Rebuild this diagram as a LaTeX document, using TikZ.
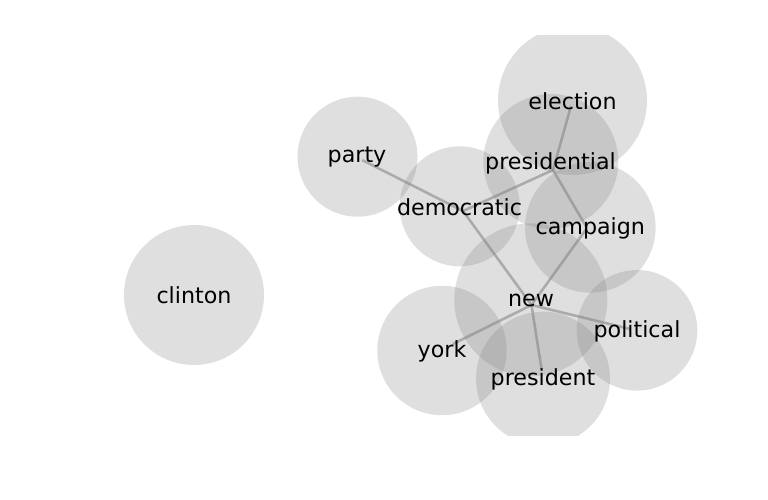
\documentclass[tikz,border=0pt]{standalone}
\usepackage{fontspec}
\setmainfont{DejaVu Sans}
\begin{document}
\begin{tikzpicture}[x=1pt,y=-1pt,
  blob/.style={fill={rgb,255:red,128;green,128;blue,128},fill opacity=0.25,draw=none},
  link/.style={draw={rgb,255:red,128;green,128;blue,128},draw opacity=0.55,line width=2.6pt},
  word/.style={inner sep=0pt,font=\fontsize{22.2}{25}\selectfont,text=black}]
\useasboundingbox (0,0) rectangle (768,500);
% layout points (edge ends)
\coordinate (pElection) at (571,106);
\coordinate (pPresidential) at (553,170);
\coordinate (pParty) at (362,160);
\coordinate (pDemocratic) at (463,211);
\coordinate (pCampaign) at (587,228);
\coordinate (pNew) at (531.5,305);
\coordinate (pPolitical) at (630,329);
\coordinate (pYork) at (453,344);
\coordinate (pPresident) at (541.5,369);
\begin{scope}
\clip (0,36) rectangle (768,435);
\fill[blob] (572.5,100.5) circle (74.5);
\fill[blob] (550.8,161.5) circle (67.5);
\fill[blob] (357.5,156.7) circle (60);
\fill[blob] (459.7,206.3) circle (60);
\fill[blob] (590.3,227.4) circle (65.3);
\fill[blob] (194,295) circle (70);
\fill[blob] (530.8,299.8) circle (76.5);
\fill[blob] (637,330.3) circle (60.3);
\fill[blob] (442,350.5) circle (64.7);
\fill[blob] (543,378.7) circle (67);
\end{scope}
\draw[link] (pParty) -- (pDemocratic);
\draw[link] (pDemocratic) -- (pPresidential);
\draw[link] (pDemocratic) -- (pNew);
\draw[link] (pPresidential) -- (pElection);
\draw[link] (pPresidential) -- (pCampaign);
\draw[link] (pCampaign) -- (pNew);
\draw[link] (pNew) -- (pYork);
\draw[link] (pNew) -- (pPresident);
\draw[link] (pNew) -- (pPolitical);
\node[word] (election) at (572.5,101.5) {election};
\node[word] (presidential) at (550.5,163.5) {presidential};
\node[word] (party) at (357,157.5) {party};
\node[word] (democratic) at (459.5,207) {democratic};
\node[word] (campaign) at (590.3,228.3) {campaign};
\node[word] (clinton) at (194,295.5) {clinton};
\node[word] (new) at (531,300.5) {new};
\node[word] (political) at (637,331) {political};
\node[word] (york) at (442,351.3) {york};
\node[word] (president) at (543,379.3) {president};
\end{tikzpicture}
\end{document}
